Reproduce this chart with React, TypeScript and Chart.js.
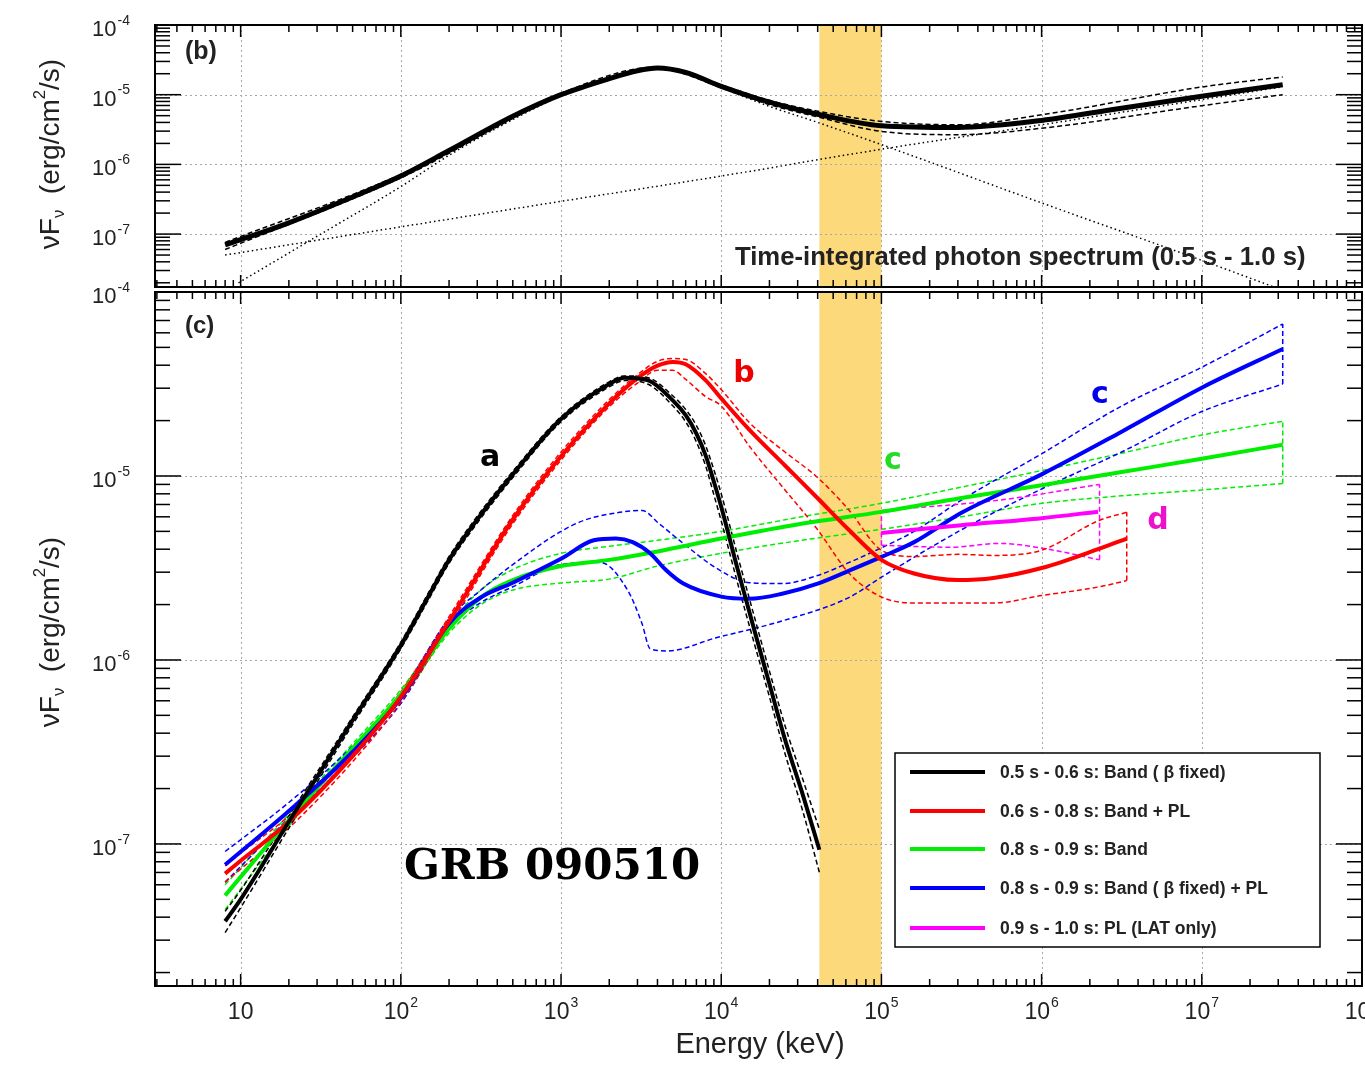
import React, { useEffect, useRef } from "react";
import { Chart, registerables } from "chart.js";

Chart.register(...registerables);

const SANS = '"Liberation Sans", Arial, Helvetica, sans-serif';

// ---------------- axes ----------------
const energyMin = 2.92;
const energyMax = 1e8;
const fluxMax = 1e-4;
const fluxMinTop = 1.74e-8;
const fluxMinBottom = 1.69e-8;
const xTickPowers = [1, 2, 3, 4, 5, 6, 7, 8];
const yTickPowers = [-4, -5, -6, -7];
const highlightBand = [4.1e4, 1e5];

// ---------------- panel (b): time-integrated spectrum ----------------
const topTotalE = [8, 10, 20, 50, 100, 200, 500, 1e3, 2e3, 3e3, 4e3, 6e3, 1e4, 2e4, 4e4, 1e5, 3e5, 1e6, 3e6, 1e7, 3.2e7];
const topTotalF = [7.0e-8, 8.3e-8, 1.45e-7, 3.4e-7, 6.8e-7, 1.58e-6, 4.9e-6, 1.0e-5, 1.7e-5, 2.21e-5, 2.42e-5, 2.09e-5, 1.32e-5, 7.8e-6, 5.25e-6, 3.59e-6, 3.39e-6, 4.27e-6, 6.3e-6, 9.5e-6, 1.39e-5];
const topBoundE = [8, 100, 1e3, 4e3, 1e4, 2e4, 4e4, 1e5, 3e5, 1e6, 1e7, 3.2e7];
const topUpperF = [7.6e-8, 7.2e-7, 1.05e-5, 2.5e-5, 1.37e-5, 8.3e-6, 5.8e-6, 4.14e-6, 3.7e-6, 5.15e-6, 1.29e-5, 1.8e-5];
const topLowerF = [6.0e-8, 6.4e-7, 9.6e-6, 2.35e-5, 1.27e-5, 7.2e-6, 4.8e-6, 2.97e-6, 2.67e-6, 3.3e-6, 6.95e-6, 1.0e-5];
const topPowerLawE = [8, 1e2, 1e3, 1e4, 1e5, 1e6, 1e7, 3.2e7];
const topPowerLawF = [5.0e-8, 1.27e-7, 2.95e-7, 6.8e-7, 1.65e-6, 3.7e-6, 8.5e-6, 1.3e-5];
const topBandE = [9.7, 30, 100, 200, 500, 1e3, 2e3, 4e3, 6e3, 1e4, 2e4, 4e4, 1e5, 1e6, 1e7, 2.75e7];
const topBandF = [2.0e-8, 9.3e-8, 4.8e-7, 1.35e-6, 4.4e-6, 9.6e-6, 1.68e-5, 2.35e-5, 2.0e-5, 1.26e-5, 6.8e-6, 4.0e-6, 1.92e-6, 2.8e-7, 4.2e-8, 1.78e-8];

// ---------------- panel (c): time-resolved spectra ----------------
// a: 0.5-0.6 s Band (beta fixed)
const aE = [8, 10, 20, 50, 100, 150, 200, 300, 500, 1e3, 2e3, 2.5e3, 3.5e3, 5e3, 6e3, 7e3, 8e3, 9e3, 1e4, 1.26e4, 1.6e4, 2e4, 2.5e4, 3.2e4, 4.1e4];
const aF = [3.8e-8, 5.0e-8, 1.32e-7, 4.7e-7, 1.2e-6, 2.25e-6, 3.5e-6, 5.8e-6, 1.02e-5, 2.04e-5, 3.16e-5, 3.42e-5, 3.31e-5, 2.57e-5, 2.14e-5, 1.7e-5, 1.29e-5, 9.3e-6, 6.8e-6, 3.16e-6, 1.48e-6, 7.4e-7, 3.7e-7, 1.9e-7, 9.3e-8];
const aUpperF = [4.3e-8, 5.6e-8, 1.42e-7, 4.9e-7, 1.25e-6, 2.35e-6, 3.65e-6, 6.05e-6, 1.06e-5, 2.1e-5, 3.25e-5, 3.5e-5, 3.42e-5, 2.72e-5, 2.3e-5, 1.88e-5, 1.46e-5, 1.08e-5, 8.0e-6, 3.75e-6, 1.75e-6, 8.7e-7, 4.4e-7, 2.3e-7, 1.2e-7];
const aLowerF = [3.3e-8, 4.5e-8, 1.22e-7, 4.45e-7, 1.15e-6, 2.15e-6, 3.35e-6, 5.55e-6, 9.8e-6, 1.97e-5, 3.05e-5, 3.3e-5, 3.15e-5, 2.4e-5, 1.97e-5, 1.53e-5, 1.13e-5, 7.9e-6, 5.7e-6, 2.65e-6, 1.25e-6, 6.3e-7, 3.1e-7, 1.55e-7, 7.0e-8];

// b: 0.6-0.8 s Band + PL
const bE = [8, 10, 20, 50, 100, 200, 500, 1e3, 2e3, 3e3, 4e3, 5e3, 6e3, 8e3, 1e4, 1.5e4, 2.5e4, 4e4, 6.3e4, 1e5, 1.6e5, 3e5, 5e5, 1e6, 2.3e6, 3.4e6];
const bF = [6.9e-8, 8.1e-8, 1.32e-7, 3.0e-7, 6.3e-7, 1.62e-6, 5.8e-6, 1.28e-5, 2.48e-5, 3.4e-5, 3.98e-5, 4.17e-5, 4.05e-5, 3.31e-5, 2.64e-5, 1.78e-5, 1.14e-5, 7.57e-6, 5.07e-6, 3.5e-6, 2.95e-6, 2.72e-6, 2.79e-6, 3.16e-6, 4.03e-6, 4.57e-6];
const bUpperF = [7.6e-8, 8.9e-8, 1.42e-7, 3.2e-7, 6.7e-7, 1.72e-6, 6.1e-6, 1.35e-5, 2.6e-5, 3.55e-5, 4.2e-5, 4.35e-5, 4.3e-5, 3.6e-5, 2.95e-5, 1.95e-5, 1.35e-5, 9.8e-6, 6.5e-6, 3.95e-6, 3.65e-6, 3.75e-6, 3.7e-6, 3.95e-6, 5.75e-6, 6.35e-6];
const bLowerF = [6.2e-8, 7.3e-8, 1.22e-7, 2.8e-7, 5.9e-7, 1.52e-6, 5.5e-6, 1.22e-5, 2.38e-5, 3.2e-5, 3.75e-5, 3.75e-5, 3.35e-5, 2.7e-5, 2.4e-5, 1.45e-5, 8.4e-6, 5.1e-6, 2.95e-6, 2.2e-6, 2.04e-6, 2.04e-6, 2.04e-6, 2.24e-6, 2.5e-6, 2.7e-6];
const bEdgeE = [3.4e6, 3.4e6];
const bEdgeF = [2.7e-6, 6.35e-6];

// c: 0.8-0.9 s Band
const cE = [8, 20, 50, 100, 200, 316, 500, 1e3, 2e3, 4e3, 1e4, 3.16e4, 1e5, 3.16e5, 1e6, 3.16e6, 1e7, 3.2e7];
const cF = [5.25e-8, 1.35e-7, 3.31e-7, 6.5e-7, 1.48e-6, 2.19e-6, 2.72e-6, 3.24e-6, 3.5e-6, 3.89e-6, 4.57e-6, 5.5e-6, 6.38e-6, 7.59e-6, 8.91e-6, 1.05e-5, 1.24e-5, 1.48e-5];
const cUpperF = [6.0e-8, 1.45e-7, 3.5e-7, 6.9e-7, 1.56e-6, 2.4e-6, 3.1e-6, 3.8e-6, 4.15e-6, 4.47e-6, 5.0e-6, 6.0e-6, 7.1e-6, 8.7e-6, 1.07e-5, 1.33e-5, 1.67e-5, 1.98e-5];
const cLowerF = [4.4e-8, 1.25e-7, 3.1e-7, 6.1e-7, 1.4e-6, 2.0e-6, 2.4e-6, 2.62e-6, 2.75e-6, 3.24e-6, 3.8e-6, 4.47e-6, 5.13e-6, 6.0e-6, 7.1e-6, 7.8e-6, 8.4e-6, 9.1e-6];
const cEdgeE = [3.2e7, 3.2e7];
const cEdgeF = [9.1e-6, 1.98e-5];

// d (blue): 0.8-0.9 s Band (beta fixed) + PL
const dE = [8, 20, 50, 100, 200, 316, 500, 1e3, 1.6e3, 2.2e3, 2.8e3, 3.6e3, 4.5e3, 5.8e3, 1e4, 1.5e4, 2.4e4, 4e4, 6.3e4, 1e5, 1.6e5, 3.16e5, 1e6, 3.16e6, 1e7, 3.2e7];
const dF = [7.7e-8, 1.51e-7, 3.16e-7, 6.2e-7, 1.58e-6, 2.19e-6, 2.63e-6, 3.55e-6, 4.47e-6, 4.57e-6, 4.37e-6, 3.8e-6, 3.09e-6, 2.6e-6, 2.21e-6, 2.15e-6, 2.29e-6, 2.6e-6, 3.06e-6, 3.63e-6, 4.37e-6, 6.31e-6, 1.02e-5, 1.74e-5, 3.02e-5, 4.9e-5];
const dUpperE = [8, 20, 50, 100, 200, 316, 500, 1e3, 1.4e3, 2.2e3, 3.2e3, 4.1e3, 5.8e3, 9.3e3, 1.5e4, 2.4e4, 4e4, 6.3e4, 1e5, 1.6e5, 3.16e5, 1e6, 3.16e6, 1e7, 3.2e7];
const dUpperF = [9.1e-8, 1.68e-7, 3.4e-7, 6.6e-7, 1.68e-6, 2.4e-6, 3.3e-6, 5.0e-6, 5.75e-6, 6.3e-6, 6.5e-6, 5.5e-6, 4.3e-6, 3.16e-6, 2.63e-6, 2.6e-6, 2.88e-6, 3.39e-6, 4.07e-6, 5.0e-6, 7.4e-6, 1.32e-5, 2.4e-5, 3.9e-5, 6.7e-5];
const dLowerE = [8, 20, 50, 100, 200, 316, 500, 1e3, 1.75e3, 2.6e3, 3.2e3, 3.6e3, 4.6e3, 9.3e3, 2.4e4, 6.3e4, 1e5, 3.16e5, 1e6, 3.16e6, 1e7, 3.2e7];
const dLowerF = [6.2e-8, 1.38e-7, 2.95e-7, 5.8e-7, 1.5e-6, 2.05e-6, 2.5e-6, 3.3e-6, 3.39e-6, 2.4e-6, 1.58e-6, 1.15e-6, 1.12e-6, 1.32e-6, 1.63e-6, 2.19e-6, 2.82e-6, 5.1e-6, 8.5e-6, 1.35e-5, 2.24e-5, 3.16e-5];
const dEdgeE = [3.2e7, 3.2e7];
const dEdgeF = [3.16e-5, 6.7e-5];

// e (magenta): 0.9-1.0 s PL (LAT only)
const eE = [1e5, 3.16e5, 1e6, 2.25e6];
const eF = [4.9e-6, 5.4e-6, 5.9e-6, 6.4e-6];
const eUpperE = [1e5, 5.5e5, 2.3e6];
const eUpperF = [6.5e-6, 7.4e-6, 9.0e-6];
const eLowerE = [1e5, 2.7e5, 5.5e5, 1.1e6, 2.3e6];
const eLowerF = [4.2e-6, 4.1e-6, 4.3e-6, 4.0e-6, 3.5e-6];
const eStartEdgeE = [1e5, 1e5];
const eStartEdgeF = [4.2e-6, 6.5e-6];
const eEndEdgeE = [2.3e6, 2.3e6];
const eEndEdgeF = [3.5e-6, 9.0e-6];

const legendLabels = [
  "0.5 s - 0.6 s: Band ( \u03b2 fixed)",
  "0.6 s - 0.8 s: Band + PL",
  "0.8 s - 0.9 s: Band",
  "0.8 s - 0.9 s: Band ( \u03b2 fixed) + PL",
  "0.9 s - 1.0 s: PL (LAT only)",
];
const curveLabels = ["a", "b", "c", "c", "d"];

// ---------------- styles / layout ----------------
const BLACK = "#000000";
const RED = "#ff0000";
const GREEN = "#00ee00";
const BLUE = "#0000ff";
const MAGENTA = "#ff00ff";
const BAND_COLOR = "rgb(252, 217, 122)";
const legendColors = [BLACK, RED, GREEN, BLUE, MAGENTA];
const curveLabelColors = [BLACK, "#ee0000", "#22dd22", "#0000ee", "#ee11cc"];
const curveLabelPagePos = [
  [490, 458],
  [744, 374],
  [893, 461],
  [1100, 395],
  [1158, 521],
];
const TOP_H = 290;
const BOT_TOP = 280;
const BOT_H = 790;

function toPoints(xs: number[], ys: number[]) {
  return xs.map((x, i) => ({ x, y: ys[i] }));
}

function line(xs: number[], ys: number[], color: string, width: number, dash: number[] = [], smooth = true) {
  return {
    data: toPoints(xs, ys),
    borderColor: color,
    backgroundColor: color,
    borderWidth: width,
    borderDash: dash,
    pointRadius: 0,
    pointHoverRadius: 0,
    fill: false,
    tension: 0,
    cubicInterpolationMode: smooth ? "monotone" : "default",
    borderCapStyle: "butt",
    borderJoinStyle: "round",
  } as any;
}

const DASH = [5, 3];
const DOT = [1.5, 3];

function drawPow(ctx: CanvasRenderingContext2D, exp: string | null, x: number, y: number, align: "center" | "right", size: number) {
  ctx.font = `${size}px ${SANS}`;
  const bw = ctx.measureText("10").width;
  const ss = Math.round(size * 0.62);
  let ew = 0;
  if (exp) {
    ctx.font = `${ss}px ${SANS}`;
    ew = ctx.measureText(exp).width + 1;
  }
  const total = bw + ew;
  const x0 = align === "center" ? x - total / 2 : x - total;
  ctx.fillStyle = "#222";
  ctx.textAlign = "left";
  ctx.textBaseline = "middle";
  ctx.font = `${size}px ${SANS}`;
  ctx.fillText("10", x0, y);
  if (exp) {
    ctx.font = `${ss}px ${SANS}`;
    ctx.fillText(exp, x0 + bw + 1, y - size * 0.42);
  }
}

function drawYTitle(ctx: CanvasRenderingContext2D, cx: number, cy: number, size: number) {
  const parts = [
    { t: "\u03bdF", s: size, dy: 0 },
    { t: "\u03bd", s: size * 0.6, dy: size * 0.3 },
    { t: "  (erg/cm", s: size, dy: 0 },
    { t: "2", s: size * 0.6, dy: -size * 0.38 },
    { t: "/s)", s: size, dy: 0 },
  ];
  ctx.save();
  ctx.translate(cx, cy);
  ctx.rotate(-Math.PI / 2);
  ctx.fillStyle = "#222";
  ctx.textBaseline = "middle";
  ctx.textAlign = "left";
  let total = 0;
  for (const p of parts) {
    ctx.font = `${p.s}px ${SANS}`;
    total += ctx.measureText(p.t).width;
  }
  let x = -total / 2;
  for (const p of parts) {
    ctx.font = `${p.s}px ${SANS}`;
    ctx.fillText(p.t, x, p.dy);
    x += ctx.measureText(p.t).width;
  }
  ctx.restore();
}

function seg(ctx: CanvasRenderingContext2D, x1: number, y1: number, x2: number, y2: number) {
  ctx.beginPath();
  ctx.moveTo(x1, y1);
  ctx.lineTo(x2, y2);
  ctx.stroke();
}

function drawBackground(chart: any) {
  const { ctx, chartArea: a, scales } = chart;
  const x = scales.x;
  const y = scales.y;
  ctx.save();
  const bx0 = x.getPixelForValue(highlightBand[0]);
  const bx1 = x.getPixelForValue(highlightBand[1]);
  ctx.fillStyle = BAND_COLOR;
  ctx.fillRect(bx0, a.top, bx1 - bx0, a.bottom - a.top);
  ctx.strokeStyle = "#a8a8a8";
  ctx.lineWidth = 1;
  ctx.setLineDash([2, 3]);
  for (const p of xTickPowers) {
    const v = Math.pow(10, p);
    if (v >= x.max) continue;
    const px = Math.round(x.getPixelForValue(v)) + 0.5;
    seg(ctx, px, a.top, px, a.bottom);
  }
  for (const p of yTickPowers) {
    const v = Math.pow(10, p);
    if (v >= y.max || v <= y.min) continue;
    const py = Math.round(y.getPixelForValue(v)) + 0.5;
    seg(ctx, a.left, py, a.right, py);
  }
  ctx.restore();
}

function drawFrame(chart: any) {
  const { ctx, chartArea: a, scales } = chart;
  const x = scales.x;
  const y = scales.y;
  ctx.save();
  ctx.setLineDash([]);
  ctx.strokeStyle = "#000";
  ctx.lineWidth = 1.5;
  for (let p = 0; p <= 8; p++) {
    for (let k = 1; k <= 9; k++) {
      const v = k * Math.pow(10, p);
      if (v < x.min || v > x.max) continue;
      const px = x.getPixelForValue(v);
      const len = k === 1 ? 12 : 7;
      seg(ctx, px, a.bottom, px, a.bottom - len);
      seg(ctx, px, a.top, px, a.top + len);
    }
  }
  for (let p = -9; p <= -4; p++) {
    for (let k = 1; k <= 9; k++) {
      const v = k * Math.pow(10, p);
      if (v < y.min || v > y.max) continue;
      const py = y.getPixelForValue(v);
      const len = k === 1 ? 26 : 15;
      seg(ctx, a.left, py, a.left + len, py);
      seg(ctx, a.right, py, a.right - len, py);
    }
  }
  ctx.lineWidth = 2;
  ctx.strokeRect(a.left, a.top, a.right - a.left, a.bottom - a.top);
  ctx.restore();
}

function drawYLabels(chart: any) {
  const { ctx, scales } = chart;
  const y = scales.y;
  for (const p of yTickPowers) {
    const py = y.getPixelForValue(Math.pow(10, p));
    drawPow(ctx, String(p), 130, py + 5, "right", 22);
  }
}

function drawLegend(chart: any) {
  const { ctx } = chart;
  const oy = -BOT_TOP;
  ctx.save();
  ctx.fillStyle = "#fff";
  ctx.fillRect(895, 753 + oy, 425, 194);
  ctx.strokeStyle = "#000";
  ctx.lineWidth = 1.5;
  ctx.setLineDash([]);
  ctx.strokeRect(895, 753 + oy, 425, 194);
  const rows = [772, 811, 849, 888, 928];
  legendLabels.forEach((lab, i) => {
    ctx.strokeStyle = legendColors[i];
    ctx.lineWidth = 4;
    seg(ctx, 910, rows[i] + oy, 985, rows[i] + oy);
    ctx.fillStyle = "#222";
    ctx.font = `bold 17.5px ${SANS}`;
    ctx.textAlign = "left";
    ctx.textBaseline = "middle";
    ctx.fillText(lab, 1000, rows[i] + oy + 1);
  });
  ctx.restore();
}

const topPlugin = {
  id: "topDecor",
  beforeDatasetsDraw(chart: any) {
    drawBackground(chart);
  },
  afterDatasetsDraw(chart: any) {
    drawFrame(chart);
  },
  afterDraw(chart: any) {
    const { ctx } = chart;
    ctx.save();
    drawYLabels(chart);
    drawYTitle(ctx, 51, 154, 28);
    ctx.fillStyle = "#222";
    ctx.textAlign = "left";
    ctx.textBaseline = "middle";
    ctx.font = `bold 25px ${SANS}`;
    ctx.fillText("(b)", 185, 52);
    ctx.font = `bold 25.7px ${SANS}`;
    ctx.fillText("Time-integrated photon spectrum (0.5 s - 1.0 s)", 735, 258);
    ctx.restore();
  },
};

const bottomPlugin = {
  id: "bottomDecor",
  beforeDatasetsDraw(chart: any) {
    drawBackground(chart);
  },
  afterDatasetsDraw(chart: any) {
    drawLegend(chart);
    drawFrame(chart);
  },
  afterDraw(chart: any) {
    const { ctx, scales } = chart;
    const x = scales.x;
    const oy = -BOT_TOP;
    ctx.save();
    drawYLabels(chart);
    drawYTitle(ctx, 51, 632 + oy, 28);
    for (const p of xTickPowers) {
      const px = x.getPixelForValue(Math.pow(10, p));
      drawPow(ctx, p === 1 ? null : String(p), px, 1013 + oy, "center", 23);
    }
    ctx.fillStyle = "#222";
    ctx.textAlign = "center";
    ctx.textBaseline = "middle";
    ctx.font = `29px ${SANS}`;
    ctx.fillText("Energy (keV)", 760, 1045 + oy);
    ctx.textAlign = "left";
    ctx.font = `bold 24px ${SANS}`;
    ctx.fillText("(c)", 185, 326 + oy);
    ctx.fillStyle = "#000";
    ctx.font = `bold 42px "DejaVu Serif", serif`;
    ctx.fillText("GRB 090510", 404, 868 + oy);
    ctx.textAlign = "center";
    ctx.font = `bold 30px "DejaVu Sans", sans-serif`;
    curveLabels.forEach((t, i) => {
      ctx.fillStyle = curveLabelColors[i];
      ctx.fillText(t, curveLabelPagePos[i][0], curveLabelPagePos[i][1] + oy);
    });
    ctx.restore();
  },
};

function baseOptions(yMin: number, padding: any) {
  return {
    responsive: false,
    maintainAspectRatio: false,
    animation: false,
    events: [],
    layout: { padding },
    plugins: { legend: { display: false }, tooltip: { enabled: false } },
    scales: {
      x: { type: "logarithmic", min: energyMin, max: energyMax, display: false },
      y: { type: "logarithmic", min: yMin, max: fluxMax, display: false },
    },
  } as any;
}

function topConfig(): any {
  return {
    type: "line",
    data: {
      datasets: [
        line(topTotalE, topTotalF, BLACK, 5),
        line(topBoundE, topUpperF, BLACK, 1.5, DASH),
        line(topBoundE, topLowerF, BLACK, 1.5, DASH),
        line(topPowerLawE, topPowerLawF, BLACK, 1.5, DOT),
        line(topBandE, topBandF, BLACK, 1.5, DOT),
      ],
    },
    options: baseOptions(fluxMinTop, { left: 155, right: 3, top: 25, bottom: TOP_H - 287 }),
    plugins: [topPlugin],
  };
}

function bottomConfig(): any {
  return {
    type: "line",
    data: {
      datasets: [
        line(aE, aF, BLACK, 4),
        line(bE, bF, RED, 4),
        line(eE, eF, MAGENTA, 4),
        line(dE, dF, BLUE, 4),
        line(cE, cF, GREEN, 4),
        line(aE, aUpperF, BLACK, 1.5, DASH),
        line(aE, aLowerF, BLACK, 1.5, DASH),
        line(bE, bUpperF, RED, 1.5, DASH),
        line(bE, bLowerF, RED, 1.5, DASH),
        line(bEdgeE, bEdgeF, RED, 1.5, DASH, false),
        line(eUpperE, eUpperF, MAGENTA, 1.5, DASH),
        line(eLowerE, eLowerF, MAGENTA, 1.5, DASH),
        line(eStartEdgeE, eStartEdgeF, MAGENTA, 1.5, DASH, false),
        line(eEndEdgeE, eEndEdgeF, MAGENTA, 1.5, DASH, false),
        line(dUpperE, dUpperF, BLUE, 1.5, DASH),
        line(dLowerE, dLowerF, BLUE, 1.5, DASH),
        line(dEdgeE, dEdgeF, BLUE, 1.5, DASH, false),
        line(cE, cUpperF, GREEN, 1.5, DASH),
        line(cE, cLowerF, GREEN, 1.5, DASH),
        line(cEdgeE, cEdgeF, GREEN, 1.5, DASH, false),
      ],
    },
    options: baseOptions(fluxMinBottom, { left: 155, right: 3, top: 292 - BOT_TOP, bottom: BOT_TOP + BOT_H - 986 }),
    plugins: [bottomPlugin],
  };
}

export default function App() {
  const topRef = useRef<HTMLCanvasElement>(null);
  const botRef = useRef<HTMLCanvasElement>(null);
  useEffect(() => {
    const top = new Chart(topRef.current as HTMLCanvasElement, topConfig());
    const bot = new Chart(botRef.current as HTMLCanvasElement, bottomConfig());
    return () => {
      top.destroy();
      bot.destroy();
    };
  }, []);
  return (
    <div style={{ position: "absolute", left: 0, top: 0, width: 1365, height: 1070, background: "#fff" }}>
      <canvas ref={topRef} width={1365} height={TOP_H} style={{ position: "absolute", left: 0, top: 0, width: 1365, height: TOP_H }} />
      <canvas ref={botRef} width={1365} height={BOT_H} style={{ position: "absolute", left: 0, top: BOT_TOP, width: 1365, height: BOT_H }} />
    </div>
  );
}
